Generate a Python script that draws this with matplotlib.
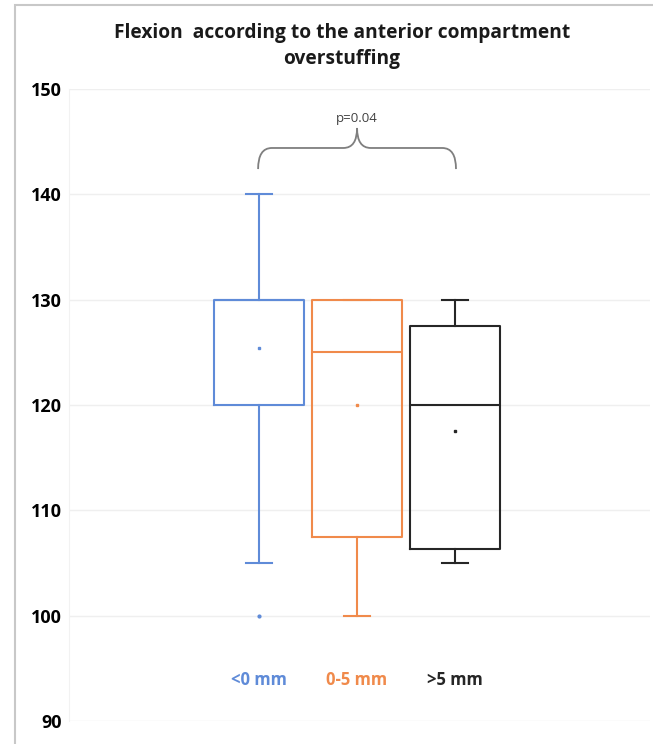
import matplotlib
matplotlib.use("Agg")
import matplotlib.pyplot as plt
from matplotlib.path import Path
from matplotlib.patches import PathPatch, Rectangle

plt.rcParams["font.family"] = ["Open Sans", "DejaVu Sans"]

# flexion (degrees) per anterior overstuffing group
groups = ["<0 mm", "0-5 mm", ">5 mm"]
colors = ["#5F8BD8", "#F08A4B", "#262626"]
whislo = [105, 100, 105]
q1 = [120, 107.5, 106.3]
med = [130, 125, 120]
q3 = [130, 130, 127.5]
whishi = [140, 130, 130]
means = [125.4, 120, 117.5]
fliers = [[100], [], []]
p_label = "p=0.04"

fig = plt.figure(figsize=(6.53, 7.44), dpi=100)
ax = fig.add_axes([69 / 653, 23 / 744, 581 / 653, 632 / 744])

stats = []
for i, g in enumerate(groups):
    stats.append(dict(label=g, whislo=whislo[i], q1=q1[i], med=med[i],
                      q3=q3[i], whishi=whishi[i], mean=means[i], fliers=fliers[i]))

positions = [1, 2, 3]
for i, s in enumerate(stats):
    c = colors[i]
    ax.bxp([s], positions=[positions[i]], widths=0.91, showmeans=True,
           capwidths=[0.27],
           boxprops=dict(color=c, lw=1.5),
           medianprops=dict(color=c, lw=1.5),
           whiskerprops=dict(color=c, lw=1.5),
           capprops=dict(color=c, lw=1.5),
           meanprops=dict(marker="s", markersize=2, markerfacecolor=c,
                          markeredgecolor=c),
           flierprops=dict(marker="o", markersize=2, markerfacecolor=c,
                           markeredgecolor=c))

ax.set_xlim(-0.94, 4.99)
ax.set_ylim(90, 150)
ax.set_yticks(range(90, 151, 10))
ax.yaxis.grid(True, color="#efefef", lw=1)
ax.set_axisbelow(True)
ax.tick_params(axis="y", length=0, pad=5, labelsize=13)
for lbl in ax.get_yticklabels():
    lbl.set_fontweight("bold")
ax.set_xticks([])
for side in ("top", "right", "bottom"):
    ax.spines[side].set_visible(False)
ax.spines["left"].set_color("#f2f2f2")

# group names inside the plot area
for i, g in enumerate(groups):
    ax.text(positions[i], 93.9, g, color=colors[i], fontweight="bold",
            fontsize=12, ha="center", va="center")

# curly brace between first and last group
x0, x1 = 0.99, 3.01
xm = (x0 + x1) / 2
yb, ym, yt = 142.4, 144.4, 146.3
r = 0.14
verts = [(x0, yb), (x0, ym), (x0 + r, ym),
         (xm - r, ym), (xm, ym), (xm, yt),
         (xm, yt), (xm, ym), (xm + r, ym),
         (x1 - r, ym), (x1, ym), (x1, yb)]
codes = [Path.MOVETO, Path.CURVE3, Path.CURVE3,
         Path.LINETO, Path.CURVE3, Path.CURVE3,
         Path.MOVETO, Path.CURVE3, Path.CURVE3,
         Path.LINETO, Path.CURVE3, Path.CURVE3]
ax.add_patch(PathPatch(Path(verts, codes), fill=False, ec="#7f7f7f", lw=1.3))
ax.text(xm, 147.2, p_label, fontsize=9.5, color="#404040",
        ha="center", va="center")

fig.text(342 / 653, 1 - 46 / 744,
         "Flexion  according to the anterior compartment\noverstuffing",
         ha="center", va="center", fontsize=13.8, fontweight="bold",
         linespacing=1.4, color="#1a1a1a")

# outer frame (left and top edges visible)
fig.patches.append(Rectangle((15 / 653, -0.1), 2, 1.1 - 5 / 744,
                             transform=fig.transFigure, fill=False,
                             ec="#c8c8c8", lw=1.5))

fig.savefig("out.png", dpi=100)
